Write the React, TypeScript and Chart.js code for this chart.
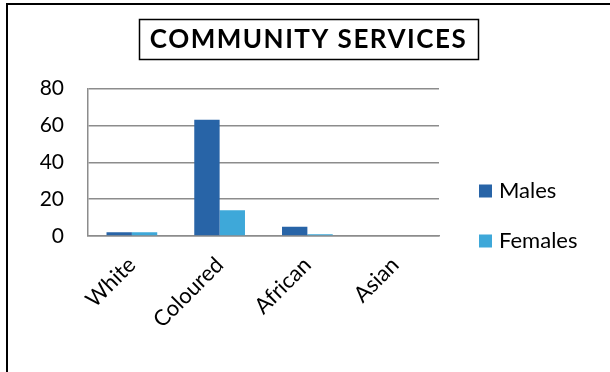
import React, { useEffect, useRef } from "react";
import { Chart, registerables } from "chart.js";

Chart.register(...registerables);

const categories = ["White", "Coloured", "African", "Asian"];
const males = [2, 63, 5, 0];
const females = [2, 14, 1, 0];
const yTicks = [0, 20, 40, 60, 80];
const titleText = "COMMUNITY SERVICES";

const FONT = "Lato, 'DejaVu Sans', sans-serif";

const boxTitlePlugin = {
  id: "boxTitle",
  afterDraw(chart: any) {
    const ctx = chart.ctx;
    ctx.save();
    ctx.strokeStyle = "#000";
    ctx.lineWidth = 2;
    ctx.beginPath();
    ctx.moveTo(7, 372);
    ctx.lineTo(7, 4);
    ctx.lineTo(610, 4);
    ctx.stroke();
    ctx.font = `bold 26px ${FONT}`;
    (ctx as any).letterSpacing = "1.5px";
    ctx.fillStyle = "#000";
    ctx.textAlign = "center";
    ctx.textBaseline = "middle";
    ctx.fillText(titleText, 308.5, 40);
    (ctx as any).letterSpacing = "0px";
    ctx.lineWidth = 1.5;
    ctx.strokeRect(139.5, 19.5, 339, 40);
    ctx.restore();
  },
};

const legendPlugin = {
  id: "sideLegend",
  afterDraw(chart: any) {
    const ctx = chart.ctx;
    ctx.save();
    ctx.font = `22px ${FONT}`;
    ctx.textAlign = "left";
    ctx.textBaseline = "middle";
    chart.data.datasets.forEach((ds: any, i: number) => {
      const cy = 191 + i * 50;
      ctx.fillStyle = ds.backgroundColor;
      ctx.fillRect(479, cy - 6.5, 13, 13);
      ctx.fillStyle = "#000";
      ctx.fillText(ds.label, 499, cy);
    });
    ctx.restore();
  },
};

export default function App() {
  const ref = useRef<HTMLCanvasElement>(null);
  useEffect(() => {
    if (!ref.current) return;
    const chart = new Chart(ref.current, {
      type: "bar",
      data: {
        labels: categories,
        datasets: [
          { label: "Males", data: males, backgroundColor: "#2864A7", categoryPercentage: 0.578, barPercentage: 1 },
          { label: "Females", data: females, backgroundColor: "#3EA8D9", categoryPercentage: 0.578, barPercentage: 1 },
        ],
      },
      options: {
        animation: false,
        responsive: false,
        layout: { padding: { top: 88.5, right: 171, left: 0, bottom: 0 } },
        plugins: { legend: { display: false }, title: { display: false }, tooltip: { enabled: false } },
        scales: {
          x: {
            grid: { display: false, drawTicks: false },
            border: { color: "#8c8c8c", width: 1.5 },
            ticks: { color: "#000", font: { family: FONT, size: 22 }, maxRotation: 45, minRotation: 45, padding: 16 },
            afterFit(scale: any) { scale.height = 372 - 236; },
          },
          y: {
            min: 0,
            max: 80,
            afterBuildTicks(scale: any) { scale.ticks = yTicks.map((v) => ({ value: v })); },
            grid: { color: "#8c8c8c", lineWidth: 1.5, drawTicks: false },
            border: { color: "#8c8c8c", width: 1.5 },
            ticks: { color: "#000", font: { family: FONT, size: 21 }, padding: 24 },
            afterFit(scale: any) { scale.width = 88; },
          },
        },
      },
      plugins: [boxTitlePlugin, legendPlugin],
    });
    return () => chart.destroy();
  }, []);
  return (
    <div style={{ position: "fixed", left: 0, top: 0, width: 610, height: 372, background: "#fff" }}>
      <canvas ref={ref} width={610} height={372} />
    </div>
  );
}
